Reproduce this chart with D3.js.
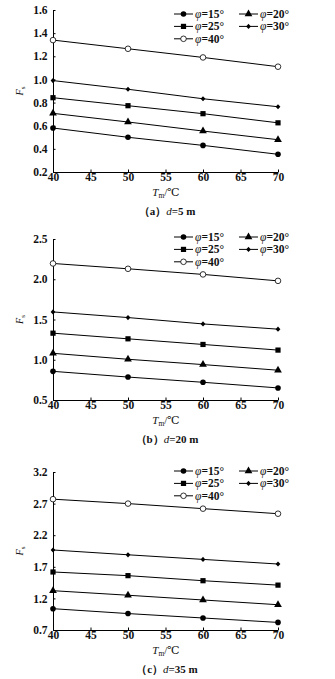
<!DOCTYPE html>
<html><head><meta charset="utf-8">
<script src="https://cdn.jsdelivr.net/npm/d3@7"></script>
<style>body{margin:0;background:#fff}svg{display:block}text{font-family:"Liberation Serif","DejaVu Serif",serif}</style>
</head><body><svg id="c" width="335" height="679"></svg>
<script>
const temps = [40, 50, 60, 70];
const xTicks = [40, 45, 50, 55, 60, 65, 70];
const angles = ["15", "20", "25", "30", "40"];
const markerKinds = ["circle", "triangle", "square", "diamond", "open"];

// panel (a) d=5 m
const a15 = [0.58, 0.50, 0.43, 0.353];
const a20 = [0.707, 0.632, 0.554, 0.479];
const a25 = [0.842, 0.773, 0.704, 0.625];
const a30 = [0.99, 0.915, 0.833, 0.764];
const a40 = [1.34, 1.265, 1.19, 1.11];
const aTicks = [0.2, 0.4, 0.6, 0.8, 1.0, 1.2, 1.4, 1.6];
// panel (b) d=20 m
const b15 = [0.856, 0.785, 0.72, 0.65];
const b20 = [1.08, 1.006, 0.94, 0.87];
const b25 = [1.33, 1.26, 1.19, 1.12];
const b30 = [1.594, 1.524, 1.445, 1.38];
const b40 = [2.196, 2.13, 2.06, 1.98];
const bTicks = [0.5, 1.0, 1.5, 2.0, 2.5];
// panel (c) d=35 m
const c15 = [1.037, 0.96, 0.89, 0.82];
const c20 = [1.322, 1.25, 1.175, 1.10];
const c25 = [1.618, 1.56, 1.48, 1.41];
const c30 = [1.966, 1.89, 1.817, 1.744];
const c40 = [2.77, 2.70, 2.62, 2.54];
const cTicks = [0.7, 1.2, 1.7, 2.2, 2.7, 3.2];

const panels = [
  {letter:"a", d:"5", series:[a15,a20,a25,a30,a40], ticks:aTicks, fmt:d3.format(".1f"), top:10, bottom:172, legY:14},
  {letter:"b", d:"20", series:[b15,b20,b25,b30,b40], ticks:bTicks, fmt:d3.format(".1f"), top:239, bottom:400, legY:237},
  {letter:"c", d:"35", series:[c15,c20,c25,c30,c40], ticks:cTicks, fmt:d3.format(".1f"), top:472, bottom:630, legY:471}
];

const svg = d3.select("#c");
const L = 53, R = 278;
const x = d3.scaleLinear().domain([40, 70]).range([L, R]);

function marker(g, kind, cx, cy) {
  if (kind === "circle") g.append("circle").attr("cx", cx).attr("cy", cy).attr("r", 2.8).attr("fill", "#000");
  else if (kind === "open") g.append("circle").attr("cx", cx).attr("cy", cy).attr("r", 2.8).attr("fill", "#fff").attr("stroke", "#000").attr("stroke-width", 0.8);
  else if (kind === "square") g.append("rect").attr("x", cx - 2.6).attr("y", cy - 2.6).attr("width", 5.2).attr("height", 5.2).attr("fill", "#000");
  else if (kind === "triangle") g.append("path").attr("d", d3.symbol(d3.symbolTriangle, 26)()).attr("transform", `translate(${cx},${cy})`).attr("fill", "#000");
  else if (kind === "diamond") g.append("path").attr("d", `M${cx},${cy-2.6}L${cx+2.4},${cy}L${cx},${cy+2.6}L${cx-2.4},${cy}Z`).attr("fill", "#000");
}

panels.forEach(p => {
  const dom = [p.ticks[0], p.ticks[p.ticks.length - 1]];
  const y = d3.scaleLinear().domain(dom).range([p.bottom, p.top]);
  const g = svg.append("g");

  const ya = g.append("g").attr("transform", `translate(${L},0)`)
    .call(d3.axisLeft(y).tickValues(p.ticks).tickFormat(p.fmt).tickSizeInner(-2.5).tickSizeOuter(0).tickPadding(5.5));
  const xa = g.append("g").attr("transform", `translate(0,${p.bottom})`)
    .call(d3.axisBottom(x).tickValues(xTicks).tickSizeInner(-2.5).tickSizeOuter(0).tickPadding(3));
  [ya, xa].forEach(a => {
    a.select(".domain").attr("stroke", "#000").attr("stroke-width", 1);
    a.selectAll(".tick line").attr("stroke", "#000");
    a.selectAll("text").attr("font-family", "Liberation Serif").attr("font-size", 11.5).attr("font-weight", "bold").attr("fill", "#111");
  });
  xa.selectAll("text").attr("dy", "0.55em");

  const line = d3.line().x((d, i) => x(temps[i])).y(d => y(d));
  p.series.forEach((s, k) => {
    g.append("path").datum(s).attr("d", line).attr("fill", "none").attr("stroke", "#000").attr("stroke-width", 1);
    s.forEach((v, i) => marker(g, markerKinds[k], x(temps[i]), y(v)));
  });

  const cols = [[0, 2, 4], [1, 3]];
  const colX = [174, 239];
  cols.forEach((col, ci) => col.forEach((k, ri) => {
    const ly = p.legY + ri * 12.4;
    const lx = colX[ci];
    g.append("line").attr("x1", lx).attr("x2", lx + 19).attr("y1", ly).attr("y2", ly).attr("stroke", "#000");
    marker(g, markerKinds[k], lx + 9.5, ly);
    const t = g.append("text").attr("x", lx + 21).attr("y", ly + 4).attr("font-size", 11.5).attr("fill", "#111");
    t.append("tspan").attr("font-style", "italic").text("φ");
    t.append("tspan").attr("font-weight", "bold").text("=" + angles[k] + "°");
  }));

  const yl = g.append("text").attr("transform", `translate(23,${(p.top + p.bottom) / 2}) rotate(-90)`)
    .attr("text-anchor", "middle").attr("font-size", 10).attr("fill", "#111");
  yl.append("tspan").attr("font-style", "italic").text("F");
  yl.append("tspan").attr("font-size", 7).attr("dy", 2).text("s");

  const xt = g.append("text").attr("x", 166).attr("y", p.bottom + 24).attr("text-anchor", "middle").attr("font-size", 11).attr("fill", "#111");
  xt.append("tspan").attr("font-style", "italic").text("T");
  xt.append("tspan").attr("font-size", 7.5).attr("dy", 2).text("m");
  xt.append("tspan").attr("dy", -2).text("/℃");

  const cap = g.append("text").attr("x", 167).attr("y", p.bottom + 43).attr("text-anchor", "middle").attr("font-size", 11).attr("font-weight", "bold").attr("fill", "#111");
  cap.append("tspan").text("（" + p.letter + "）");
  cap.append("tspan").attr("font-style", "italic").attr("font-weight", "normal").text("d");
  cap.append("tspan").text("=" + p.d + " m");
});
</script></body></html>
